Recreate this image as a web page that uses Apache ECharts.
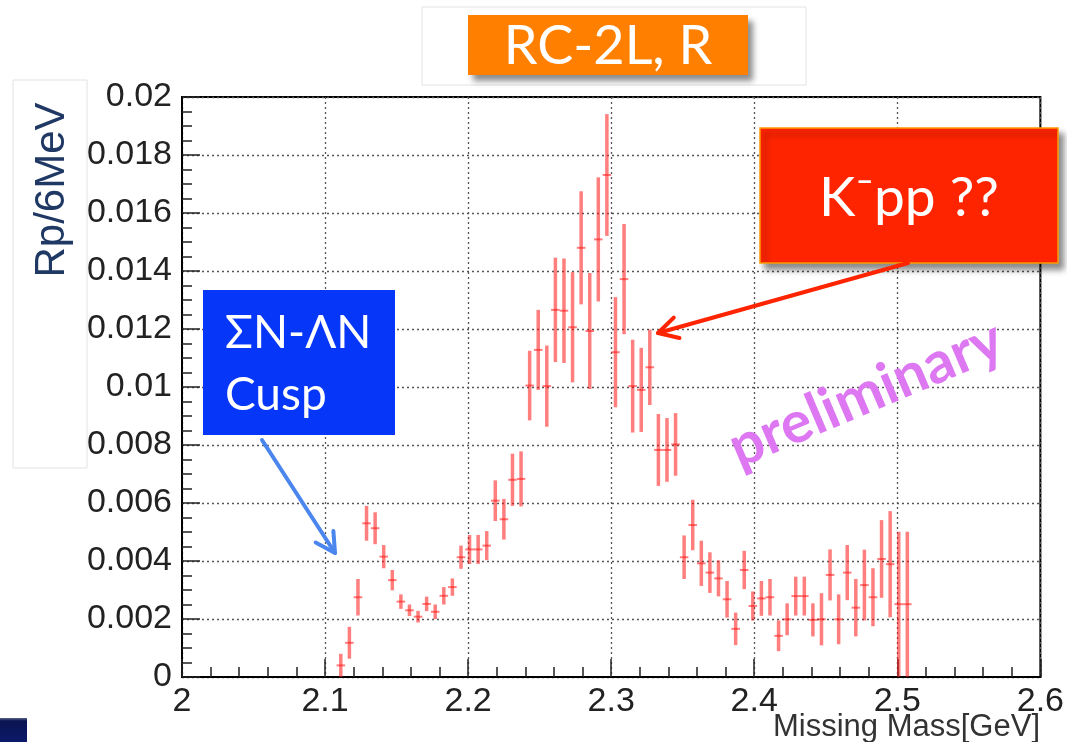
<!DOCTYPE html>
<html>
<head>
<meta charset="utf-8">
<script src="https://cdn.jsdelivr.net/npm/echarts@6/dist/echarts.min.js"></script>
<style>
  html, body { margin: 0; padding: 0; background: #fff; }
  #chart { width: 1067px; height: 742px; }
</style>
</head>
<body>
<div id="chart"></div>
<script>
// Bin centres of the missing-mass histogram (GeV)
const mass = [
  2.111, 2.117, 2.123, 2.129, 2.135, 2.141, 2.147, 2.153, 2.159, 2.165,
  2.171, 2.177, 2.183, 2.189, 2.195, 2.201, 2.207, 2.213, 2.219, 2.225,
  2.231, 2.237, 2.243, 2.249, 2.255, 2.261, 2.267, 2.273, 2.279, 2.285,
  2.291, 2.297, 2.303, 2.309, 2.315, 2.321, 2.327, 2.333, 2.339, 2.345,
  2.351, 2.357, 2.363, 2.369, 2.375, 2.381, 2.387, 2.393, 2.399, 2.405,
  2.411, 2.417, 2.423, 2.429, 2.435, 2.441, 2.447, 2.453, 2.459, 2.465,
  2.471, 2.477, 2.483, 2.489, 2.495, 2.501, 2.507
];
// Rp / 6 MeV
const rate = [
  0.0004, 0.00118, 0.00275, 0.0053, 0.00513, 0.00415, 0.00334, 0.0026, 0.0023, 0.00208,
  0.00252, 0.00225, 0.0028, 0.0031, 0.00413, 0.0044, 0.0044, 0.00453, 0.00608, 0.00544,
  0.0068, 0.00683, 0.01005, 0.01128, 0.01003, 0.01266, 0.01263, 0.01206, 0.0148, 0.01193,
  0.01509, 0.01731, 0.0112, 0.01372, 0.01003, 0.0099, 0.01068, 0.00783, 0.00783, 0.00802,
  0.00413, 0.00524, 0.00392, 0.0036, 0.0034, 0.00268, 0.00166, 0.00369, 0.00245, 0.00271,
  0.00275, 0.00142, 0.00199, 0.00279, 0.00279, 0.00197, 0.00199, 0.00352, 0.00199, 0.0036,
  0.00239, 0.00317, 0.00275, 0.00407, 0.00389, 0.00251, 0.00251
];
// statistical errors
const rateErr = [
  0.0004, 0.00055, 0.00063, 0.0006, 0.00055, 0.0004, 0.00035, 0.00025, 0.0002, 0.0002,
  0.00025, 0.00025, 0.0003, 0.0003, 0.0004, 0.0005, 0.0005, 0.0005, 0.0007, 0.0007,
  0.0009, 0.00095, 0.0012, 0.00138, 0.0014, 0.0018, 0.0018, 0.0019, 0.00195, 0.002,
  0.00214, 0.0021, 0.0019, 0.0019, 0.0016, 0.00145, 0.0013, 0.00124, 0.0011, 0.00108,
  0.00075, 0.00087, 0.00078, 0.0007, 0.00062, 0.00063, 0.00056, 0.00066, 0.0005, 0.0006,
  0.00063, 0.00053, 0.00055, 0.00067, 0.00067, 0.00057, 0.0009, 0.00088, 0.00086, 0.00095,
  0.00099, 0.00122, 0.001, 0.00134, 0.00183, 0.0025, 0.0025
];
const binHalfWidth = 0.003;  // half of 6 MeV

const xRange = [2, 2.6];
const yRange = [0, 0.02];
const xTitle = 'Missing Mass[GeV]';
const yTitle = 'Rp/6MeV';
const panelTitle = 'RC-2L, R';

const chart = echarts.init(document.getElementById('chart'), null, { renderer: 'canvas' });

const BAR_COLOR = 'rgba(255,20,20,0.55)';

function arrow(x1, y1, x2, y2, color, w, head) {
  const ang = Math.atan2(y2 - y1, x2 - x1);
  const a1 = ang + Math.PI - 0.5, a2 = ang + Math.PI + 0.5;
  return [
    { type: 'line', z: 50, shape: { x1, y1, x2, y2 }, style: { stroke: color, lineWidth: w, lineCap: 'round' } },
    { type: 'polyline', z: 50, shape: { points: [
        [x2 + head * Math.cos(a1), y2 + head * Math.sin(a1)], [x2, y2],
        [x2 + head * Math.cos(a2), y2 + head * Math.sin(a2)] ] },
      style: { stroke: color, lineWidth: w, lineCap: 'round', lineJoin: 'round', fill: null } }
  ];
}

const option = {
  backgroundColor: '#fff',
  animation: false,
  grid: { left: 182, top: 97, width: 860, height: 580, show: true, borderColor: '#000', borderWidth: 2, backgroundColor: 'transparent' },
  xAxis: {
    type: 'value', min: xRange[0], max: xRange[1], interval: 0.1,
    axisLine: { show: true, onZero: false, lineStyle: { color: '#000', width: 2 } },
    axisTick: { show: true, inside: true, length: 18, lineStyle: { color: '#222', width: 1.5 } },
    minorTick: { show: true, splitNumber: 5, length: 10, lineStyle: { color: '#222', width: 1.5 } },
    splitLine: { show: true, lineStyle: { color: '#555', type: [2, 3], width: 1.3 } },
    axisLabel: { color: '#222', fontFamily: 'Liberation Sans', fontSize: 34, margin: 8,
      formatter: v => String(+v.toFixed(2)) }
  },
  yAxis: {
    type: 'value', min: yRange[0], max: yRange[1], interval: 0.002,
    axisLine: { show: true, onZero: false, lineStyle: { color: '#000', width: 2 } },
    axisTick: { show: true, inside: true, length: 18, lineStyle: { color: '#222', width: 1.5 } },
    minorTick: { show: true, splitNumber: 4, length: 10, lineStyle: { color: '#222', width: 1.5 } },
    splitLine: { show: true, lineStyle: { color: '#555', type: [2, 3], width: 1.3 } },
    axisLabel: { color: '#222', fontFamily: 'Liberation Sans', fontSize: 34, margin: 10,
      formatter: v => String(+v.toFixed(4)) }
  },
  series: [{
    type: 'custom',
    clip: true,
    data: mass.map((m, i) => [m, rate[i], rateErr[i]]),
    encode: { x: 0, y: 1 },
    renderItem: function (params, api) {
      const x = api.value(0), y = api.value(1), e = api.value(2);
      const top = api.coord([x, y + e]);
      const bot = api.coord([x, y - e]);
      const l = api.coord([x - binHalfWidth, y]);
      const r = api.coord([x + binHalfWidth, y]);
      return {
        type: 'group',
        children: [
          { type: 'line', shape: { x1: top[0], y1: top[1], x2: bot[0], y2: bot[1] },
            style: { stroke: BAR_COLOR, lineWidth: 3.5 } },
          { type: 'line', shape: { x1: l[0], y1: l[1], x2: r[0], y2: r[1] },
            style: { stroke: BAR_COLOR, lineWidth: 2 } }
        ]
      };
    }
  }],
  graphic: [
    // panel title
    { type: 'rect', z: 40, shape: { x: 422, y: 7, width: 384, height: 78 },
      style: { fill: '#fff', stroke: '#e2e2e2', lineWidth: 1 } },
    { type: 'rect', z: 41, shape: { x: 468, y: 15, width: 280, height: 60 },
      style: { fill: '#FF8000', shadowBlur: 6, shadowOffsetX: 5, shadowOffsetY: 6, shadowColor: 'rgba(0,0,0,0.45)' } },
    { type: 'text', z: 42, x: 608, y: 47,
      style: { text: panelTitle, fill: '#fff', font: '54px Lato, "Open Sans", sans-serif', textAlign: 'center', textVerticalAlign: 'middle' } },
    // y title box
    { type: 'rect', z: 40, shape: { x: 13, y: 80, width: 74, height: 388 },
      style: { fill: '#fff', stroke: '#e2e2e2', lineWidth: 1 } },
    { type: 'text', z: 42, x: 52, y: 190, rotation: Math.PI / 2,
      style: { text: yTitle, fill: '#1F3864', font: '42px "Liberation Sans", Arial, sans-serif', textAlign: 'center', textVerticalAlign: 'middle' } },
    // x title
    { type: 'text', z: 42, x: 1040, y: 727,
      style: { text: xTitle, fill: '#333', font: '31px "Liberation Sans", Arial, sans-serif', textAlign: 'right', textVerticalAlign: 'middle' } },
    // Cusp box
    { type: 'rect', z: 41, shape: { x: 203, y: 290, width: 192, height: 145 },
      style: { fill: '#0636F8' } },
    { type: 'text', z: 42, x: 225, y: 333,
      style: { text: 'ΣN-ΛN', fill: '#fff', font: '46px Lato, "Open Sans", sans-serif', textAlign: 'left', textVerticalAlign: 'middle' } },
    { type: 'text', z: 42, x: 225, y: 395,
      style: { text: 'Cusp', fill: '#fff', font: '46px Lato, "Open Sans", sans-serif', textAlign: 'left', textVerticalAlign: 'middle' } },
    // K-pp box
    { type: 'rect', z: 41, shape: { x: 760, y: 128, width: 298, height: 135 },
      style: { fill: '#FF2400', stroke: '#FF9A00', lineWidth: 1.5, shadowBlur: 6, shadowOffsetX: 5, shadowOffsetY: 6, shadowColor: 'rgba(0,0,0,0.45)' } },
    { type: 'text', z: 42, x: 909, y: 198,
      style: { text: 'K⁻pp ??', fill: '#fff', font: '55px Lato, "Open Sans", sans-serif', textAlign: 'center', textVerticalAlign: 'middle' } },
    // preliminary
    { type: 'text', z: 42, x: 866, y: 394, rotation: 23 * Math.PI / 180,
      style: { text: 'preliminary', fill: '#DD78F2', font: 'bold 58px Lato, "Open Sans", sans-serif', textAlign: 'center', textVerticalAlign: 'middle' } },
    // arrows
    ...arrow(262, 440, 335, 553, '#4A86EE', 4, 22),
    ...arrow(908, 263, 658, 333, '#FF2400', 4, 22),
    // corner square
    { type: 'rect', z: 41, shape: { x: 0, y: 718, width: 27, height: 24 },
      style: { fill: new echarts.graphic.LinearGradient(0, 0, 0, 1, [
        { offset: 0, color: '#5a6488' }, { offset: 0.12, color: '#0a1450' }, { offset: 1, color: '#0b1a6a' } ]) } }
  ]
};

chart.setOption(option);
</script>
</body>
</html>
